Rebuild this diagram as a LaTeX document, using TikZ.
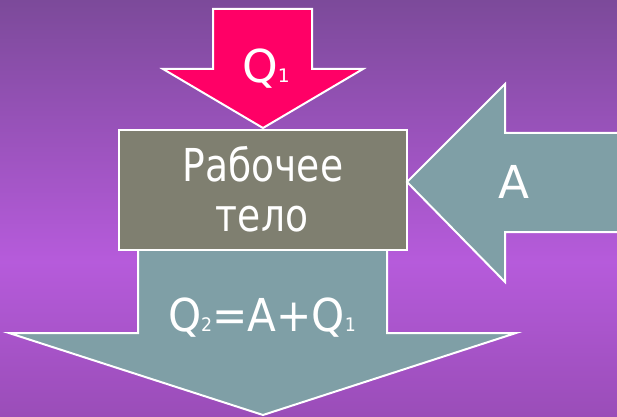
\documentclass[tikz,border=0pt]{standalone}
\usepackage{fontspec}
\usepackage{graphicx}
\setmainfont{DejaVu Sans}
\definecolor{bgtop}{RGB}{124,74,154}
\definecolor{bgmid}{RGB}{182,91,219}
\definecolor{bgbot}{RGB}{154,77,184}
\definecolor{heatred}{RGB}{255,0,102}
\definecolor{bodygray}{RGB}{127,127,112}
\definecolor{flowteal}{RGB}{127,159,166}
\newcommand\smallidx[1]{{\fontsize{14}{16}\selectfont #1}}
\tikzset{
  arrowshape/.style={draw=white, line width=1.5pt, line join=miter},
  label/.style={text=white, inner sep=0pt, anchor=base, font=\fontsize{34}{40}\selectfont},
}
\begin{document}
\begin{tikzpicture}[x=0.75pt, y=-0.75pt]
  \useasboundingbox (0,0) rectangle (617,417);
  % background gradient
  \shade[top color=bgtop, bottom color=bgmid] (0,0) rectangle (617,262);
  \shade[top color=bgmid, bottom color=bgbot] (0,261) rectangle (617,417);

  % outgoing heat (bottom arrow)
  \fill[flowteal] (138,245) -- (138,333) -- (9,333) -- (263,415) -- (516,333) -- (387,333) -- (387,245) -- cycle;
  \draw[arrowshape] (138,245) -- (138,333) -- (9,333) -- (263,415) -- (516,333) -- (387,333) -- (387,245);

  % working body
  \node[draw=white, line width=1.5pt, fill=bodygray, minimum width=288*0.75pt, minimum height=120*0.75pt, inner sep=0pt]
    (body) at (263,190) {};
  \node[label] (bodytop) at (263,181) {\scalebox{0.83}[1]{Рабочее}};
  \node[label] (bodybot) at (262,231) {\scalebox{0.83}[1]{тело}};

  % incoming heat (top arrow)
  \draw[arrowshape, fill=heatred] (213,9) -- (312,9) -- (312,69) -- (363,69) -- (263,128) -- (163,69) -- (213,69) -- cycle;
  \node[label] (q1) at (266,83) {Q\smallidx{1}};

  % work (right arrow)
  \fill[flowteal] (617,133) -- (505,133) -- (505,84) -- (407,182) -- (505,282) -- (505,232) -- (617,232) -- cycle;
  \draw[arrowshape] (617,133) -- (505,133) -- (505,84) -- (407,182) -- (505,282) -- (505,232) -- (617,232);
  \node[label] (work) at (514,199) {A};

  % balance label
  \node[label] (balance) at (262,331) {\scalebox{0.93}[1]{Q\smallidx{2}=A+Q\smallidx{1}}};
\end{tikzpicture}
\end{document}
